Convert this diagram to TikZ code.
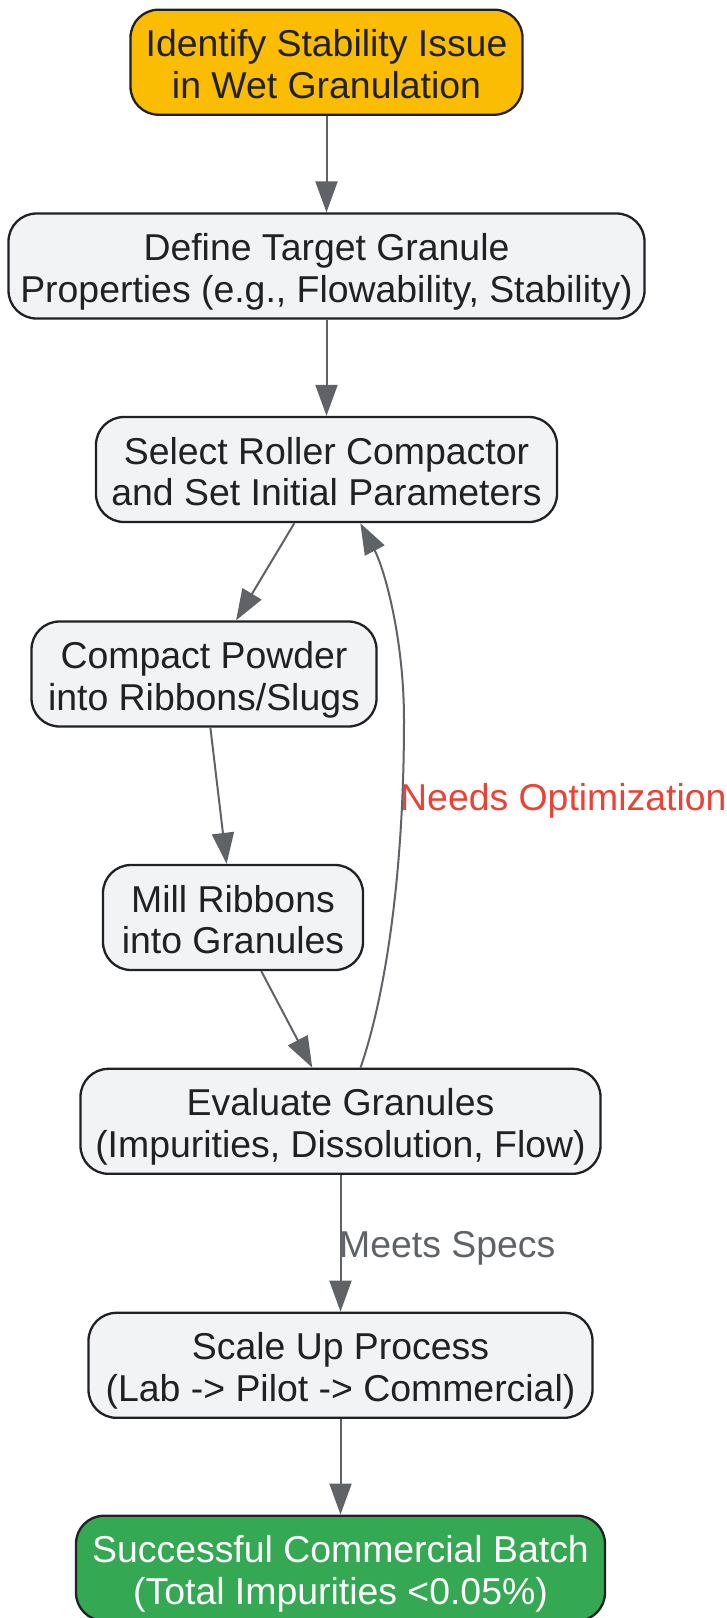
\documentclass[tikz,border=0pt]{standalone}
\usepackage{fontspec}
\setmainfont{Liberation Sans}
\usetikzlibrary{arrows.meta}
\definecolor{cyel}{HTML}{FBBC04}
\definecolor{cgray}{HTML}{F1F3F4}
\definecolor{cdark}{HTML}{202124}
\definecolor{cgreen}{HTML}{34A853}
\definecolor{cedge}{HTML}{5F6368}
\definecolor{cred}{HTML}{EA4335}
\newcommand{\twolines}[2]{\rule{0pt}{40.5pt}#1\\#2\rule[-10pt]{0pt}{10pt}}
\begin{document}
\begin{tikzpicture}[x=1pt,y=-1pt,
  box/.style={draw=cdark, line width=2.3pt, rounded corners=28pt, fill=cgray, text=cdark,
    align=center, inner xsep=0pt, inner ysep=2pt, minimum height=105pt,
    font=\fontsize{37.4}{41.5}\selectfont},
  edge/.style={draw=cedge, line width=2pt, -{Triangle[length=31pt,width=22pt]}},
  lbl/.style={inner sep=0pt, font=\fontsize{37.4}{41.5}\selectfont}
]
\useasboundingbox (0,0) rectangle (726,1618);
\clip (0,0) rectangle (726,1618);
\fill[white] (0,0) rectangle (726,1618);
\node[box, fill=cyel, minimum width=392pt] (s1) at (326.5,62.2) {\twolines{Identify Stability Issue}{in Wet Granulation}};
\node[box, minimum width=636pt] (s2) at (326.5,266) {\twolines{Define Target Granule}{Properties (e.g., Flowability, Stability)}};
\node[box, minimum width=461pt] (s3) at (326.5,469.5) {\twolines{Select Roller Compactor}{and Set Initial Parameters}};
\node[box, minimum width=345pt] (s4) at (204,674) {\twolines{Compact Powder}{into Ribbons/Slugs}};
\node[box, minimum width=260pt] (s5) at (233,917.5) {\twolines{Mill Ribbons}{into Granules}};
\node[box, minimum width=520pt] (s6) at (340.5,1121.3) {\twolines{Evaluate Granules}{(Impurities, Dissolution, Flow)}};
\node[box, minimum width=504pt] (s7) at (340.5,1365.3) {\twolines{Scale Up Process}{(Lab -> Pilot -> Commercial)}};
\node[box, fill=cgreen, text=white, minimum width=529pt] (s8) at (340.5,1568.2) {\twolines{Successful Commercial Batch}{(Total Impurities <0.05\%)}};

\draw[edge] (s1) -- (s2);
\draw[edge] (s2) -- (s3);
\draw[edge] (s3) -- (s4);
\draw[edge] (s4) -- (s5);
\draw[edge] (s5) -- (s6);
\draw[edge] ([xshift=20pt]s6.north) .. controls (384,1000) and (404,880) .. (404,720)
  .. controls (404,640) and (385,570) .. ([xshift=33.8pt]s3.south);
\draw[edge] (s6) -- (s7);
\draw[edge] (s7) -- (s8);

\node[lbl, text=cred, anchor=base west] (l1) at (400,810) {Needs Optimization};
\node[lbl, text=cedge, anchor=base west] (l2) at (339,1257) {Meets Specs};
\end{tikzpicture}
\end{document}
